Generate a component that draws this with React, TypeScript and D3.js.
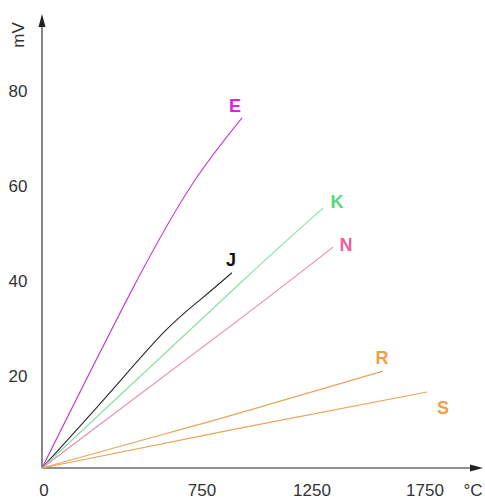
import React from "react";
import * as d3 from "d3";

// axis labels
const xTicks = [0, 750, 1250, 1750];
const yTicks = [20, 40, 60, 80];

// readings (°C, mV) off the picture
const eTemp = [0, 422, 708, 932];
const eMv = [0, 37.5, 60.0, 73.7];

const jTemp = [0, 305, 567, 741, 886];
const jMv = [0, 15.2, 28.4, 35.4, 41.1];

const kTemp = [0, 923, 1299];
const kMv = [0, 38.9, 54.7];

const nTemp = [0, 923, 1343];
const nMv = [0, 31.4, 46.5];

const rTemp = [0, 506, 923, 1564];
const rMv = [0, 6.3, 11.6, 20.4];

const sTemp = [0, 923, 1759];
const sMv = [0, 8.4, 16.0];

const names = ["E", "J", "K", "N", "R", "S"];
const temps = [eTemp, jTemp, kTemp, nTemp, rTemp, sTemp];
const volts = [eMv, jMv, kMv, nMv, rMv, sMv];

// look of each curve
const style: Record<string, { line: string; label: string; dx: number; dy: number }> = {
  E: { line: "#c23ccf", label: "#e020e0", dx: -7, dy: -12 },
  J: { line: "#2a2a2a", label: "#111111", dx: -1, dy: -13 },
  K: { line: "#86dfa4", label: "#55d97a", dx: 14, dy: -7 },
  N: { line: "#e58ab2", label: "#f0609a", dx: 13, dy: -3 },
  R: { line: "#e8a45a", label: "#f0a040", dx: -1, dy: -14 },
  S: { line: "#e8a45a", label: "#f0a040", dx: 16, dy: 15 },
};

export default function App() {
  const W = 485;
  const H = 500;

  // the tick labels are not evenly spaced, so the scale is piecewise
  const x = d3.scaleLinear().domain(xTicks).range([42, 202, 312, 425]);
  const y = d3.scaleLinear().domain([0, 80]).range([468, 88]);

  const line = d3
    .line<[number, number]>()
    .x((d) => x(d[0]))
    .y((d) => y(d[1]))
    .curve(d3.curveNatural);

  const series = names.map((n, i) => ({
    name: n,
    pts: temps[i].map((t, j) => [t, volts[i][j]] as [number, number]),
  }));

  const x0 = x(0);
  const y0 = y(0);
  const font = "'Liberation Sans', Arial, sans-serif";

  return (
    <svg
      width={W}
      height={H}
      style={{ position: "absolute", left: 0, top: 0, background: "#fff" }}
    >
      {/* axes */}
      <line x1={x0} y1={y0} x2={x0} y2={24} stroke="#6a6a6a" strokeWidth={1.6} />
      <path d={`M${x0},14 L${x0 - 3.5},27 L${x0 + 3.5},27 Z`} fill="#222" />
      <line x1={x0} y1={y0} x2={472} y2={y0} stroke="#6a6a6a" strokeWidth={1.6} />
      <path d={`M483,${y0} L470,${y0 - 3.5} L470,${y0 + 3.5} Z`} fill="#222" />

      {/* y tick labels */}
      {yTicks.map((t) => (
        <text
          key={"y" + t}
          x={18}
          y={y(t) + 9}
          textAnchor="middle"
          fontFamily={font}
          fontSize={17}
          fill="#333"
        >
          {t}
        </text>
      ))}

      {/* x tick labels */}
      {xTicks.map((t, i) => (
        <text
          key={"x" + t}
          x={x(t) + (i === 0 ? 2 : 0)}
          y={496}
          textAnchor="middle"
          fontFamily={font}
          fontSize={17}
          fill="#333"
        >
          {t}
        </text>
      ))}
      <text x={473} y={496} textAnchor="middle" fontFamily={font} fontSize={17} fill="#333">
        °C
      </text>
      <text
        transform="translate(24,35) rotate(-90)"
        textAnchor="middle"
        fontFamily={font}
        fontSize={17}
        fill="#333"
      >
        mV
      </text>

      {/* curves */}
      {series.map((s) => (
        <path
          key={s.name}
          d={line(s.pts) || ""}
          fill="none"
          stroke={style[s.name].line}
          strokeWidth={1.1}
        />
      ))}

      {/* curve names */}
      {series.map((s) => {
        const last = s.pts[s.pts.length - 1];
        const st = style[s.name];
        return (
          <text
            key={"l" + s.name}
            x={x(last[0]) + st.dx}
            y={y(last[1]) + st.dy + 6.5}
            textAnchor="middle"
            fontFamily={font}
            fontWeight="bold"
            fontSize={18}
            fill={st.label}
          >
            {s.name}
          </text>
        );
      })}
    </svg>
  );
}
